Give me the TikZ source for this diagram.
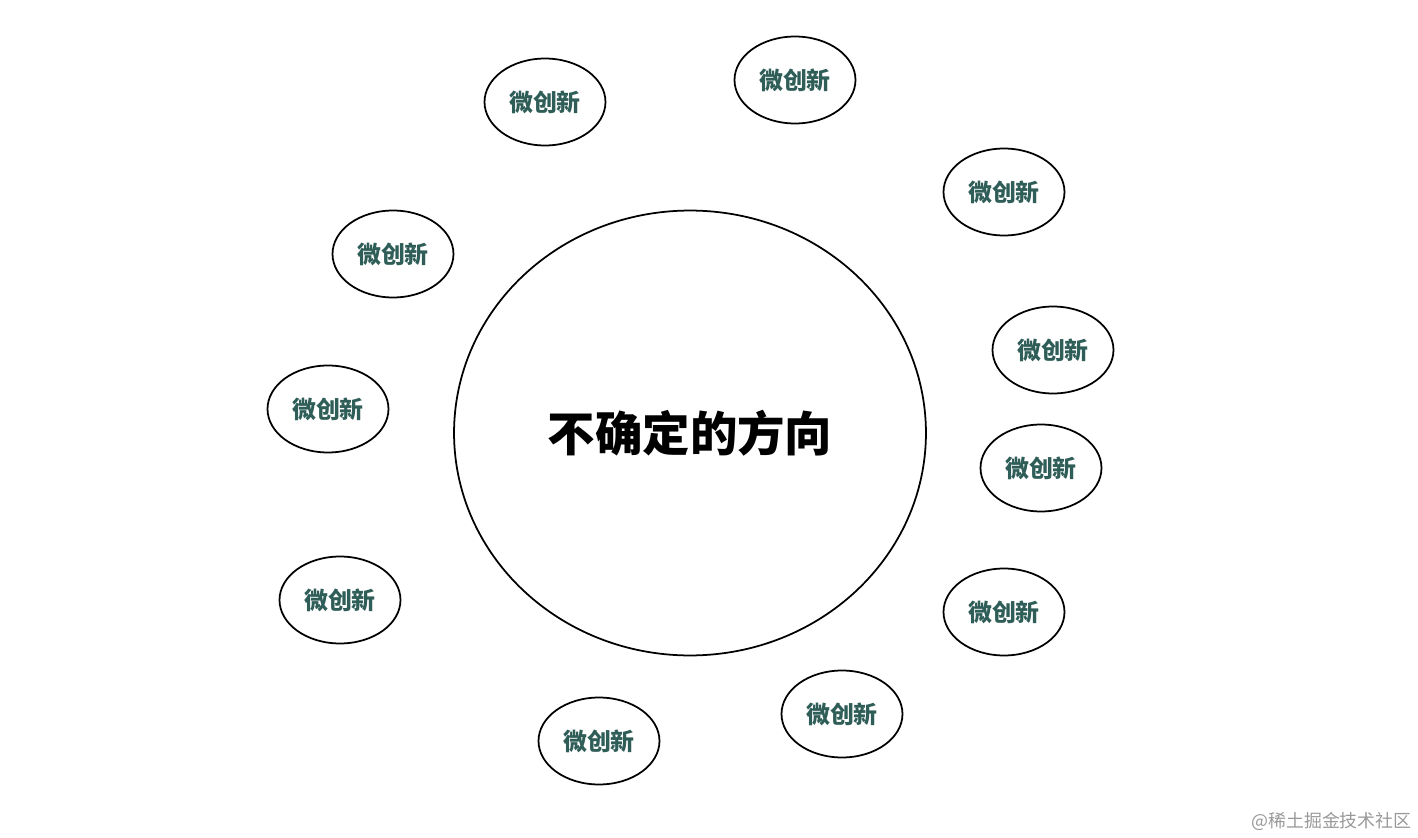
\documentclass[tikz,border=0pt]{standalone}
\usepackage{fontspec}
\usepackage{xcolor}
\usetikzlibrary{shapes.geometric}
\newfontfamily\cjk{Noto Sans CJK SC}
\definecolor{tealtext}{HTML}{2F5D58}

\begin{document}
\begin{tikzpicture}[x=0.02cm,y=-0.02cm,
  micro/.style={draw,line width=1pt,ellipse,minimum width=2.42cm,minimum height=1.74cm,inner sep=0pt,
    font=\cjk\bfseries\fontsize{13.6}{15}\selectfont,text=tealtext},
  core/.style={draw,line width=1pt,ellipse,minimum width=9.44cm,minimum height=8.9cm,inner sep=0pt,
    font=\cjk\bfseries\fontsize{27}{30}\selectfont}]
\useasboundingbox (0,0) rectangle (1418,838);
\node[core] (dir) at (690,433) {不确定的方向};
\node[micro] (w1) at (545,102) {微创新};
\node[micro] (w2) at (795,80) {微创新};
\node[micro] (w3) at (1004,192) {微创新};
\node[micro] (w4) at (393,254) {微创新};
\node[micro] (w5) at (1053,350) {微创新};
\node[micro] (w6) at (328,409) {微创新};
\node[micro] (w7) at (1041,468) {微创新};
\node[micro] (w8) at (340,600) {微创新};
\node[micro] (w9) at (1004,612) {微创新};
\node[micro] (w10) at (842,714) {微创新};
\node[micro] (w11) at (599,741) {微创新};
\node[text=black!40,font=\cjk\fontsize{10.2}{12}\selectfont,anchor=east,inner sep=0pt] (mark) at (1412,821) {@稀土掘金技术社区};
\end{tikzpicture}
\end{document}
